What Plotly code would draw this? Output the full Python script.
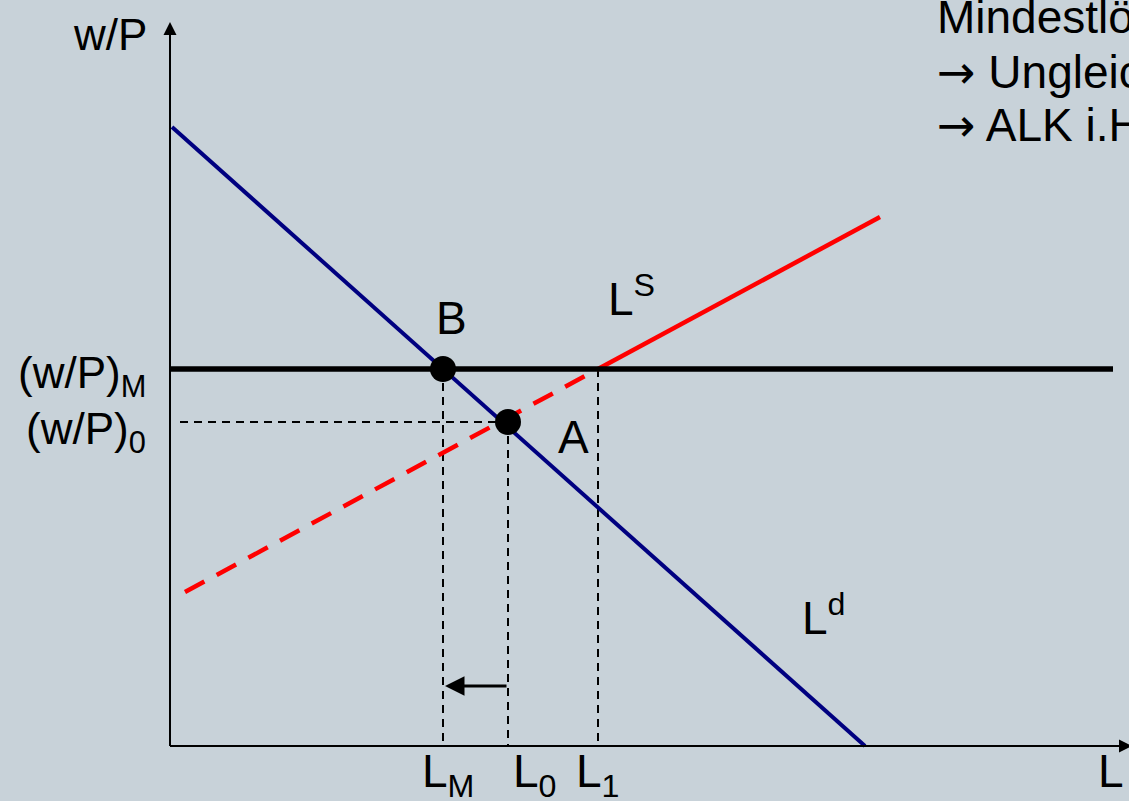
import plotly.graph_objects as go

# Model values (units: horizontal/vertical offset from the origin of the diagram)
ld_L = [2, 695]            # labour demand L^d
ld_w = [619, 0]
ls_L_dash = [15, 428]      # labour supply below minimum wage (dashed)
ls_w_dash = [154, 377]
ls_L_solid = [428, 710]    # labour supply above minimum wage (solid)
ls_w_solid = [377, 529]
w_min = 377                # (w/P)_M
w_0 = 324                  # (w/P)_0
L_M, L_0, L_1 = 273, 338, 428
w_B, w_A = 377, 324
arrow_w = 60
x_max, y_max = 962, 724

BG = "#C8D2D9"
FONT = "Liberation Sans, Arial, sans-serif"

fig = go.Figure()

dash_style = dict(color="black", width=2, dash="8px,6px")
fig.add_trace(go.Scatter(x=[10, L_0], y=[w_0, w_0], mode="lines", line=dash_style))
fig.add_trace(go.Scatter(x=[L_M, L_M], y=[w_B, 0], mode="lines", line=dash_style))
fig.add_trace(go.Scatter(x=[L_0, L_0], y=[w_A, 0], mode="lines", line=dash_style))
fig.add_trace(go.Scatter(x=[L_1, L_1], y=[w_min, 0], mode="lines", line=dash_style))

fig.add_trace(go.Scatter(x=ls_L_dash, y=ls_w_dash, mode="lines",
                         line=dict(color="#FF0000", width=4.5, dash="22px,14px")))
fig.add_trace(go.Scatter(x=ls_L_solid, y=ls_w_solid, mode="lines",
                         line=dict(color="#FF0000", width=4.5)))
fig.add_trace(go.Scatter(x=[0, 943], y=[w_min, w_min], mode="lines",
                         line=dict(color="black", width=5.5)))
fig.add_trace(go.Scatter(x=ld_L, y=ld_w, mode="lines",
                         line=dict(color="#000080", width=4)))
fig.add_trace(go.Scatter(x=[L_M, L_0], y=[w_B, w_A], mode="markers",
                         marker=dict(color="black", size=26)))

# axis lines
fig.add_trace(go.Scatter(x=[0, 0], y=[0, y_max - 5], mode="lines", line=dict(color="black", width=2)))
fig.add_trace(go.Scatter(x=[0, x_max - 5], y=[0, 0], mode="lines", line=dict(color="black", width=2)))

annotations = []
annotations.append(dict(x=0, y=y_max, ax=0, ay=0, xref="x", yref="y", axref="x", ayref="y",
                        showarrow=True, arrowhead=2, arrowsize=1.3, arrowwidth=2,
                        arrowcolor="black", text=""))
annotations.append(dict(x=x_max, y=0, ax=0, ay=0, xref="x", yref="y", axref="x", ayref="y",
                        showarrow=True, arrowhead=2, arrowsize=1.3, arrowwidth=2,
                        arrowcolor="black", text=""))
annotations.append(dict(x=L_M + 2, y=arrow_w, ax=L_0, ay=arrow_w, xref="x", yref="y",
                        axref="x", ayref="y", showarrow=True, arrowhead=2, arrowsize=1.3,
                        arrowwidth=3, arrowcolor="black", text=""))

def label(text, x, y, xa="center", ya="middle", size=46):
    annotations.append(dict(x=x, y=y, xref="x", yref="y", text=text, showarrow=False,
                            xanchor=xa, yanchor=ya, font=dict(family=FONT, size=size, color="black")))

ARROW = '<span style="font-family:DejaVu Sans">→</span>'
label("w/P", -60, 712, size=44)
label("(w/P)<sub>M</sub>", -22, 370, xa="right", size=44)
label("(w/P)<sub>0</sub>", -22, 314, xa="right", size=44)
label("B", 281, 428)
label("A", 403, 309)
label("L<sup>S</sup>", 436, 450, xa="left")
label("L<sup>d</sup>", 630, 131, xa="left")
label("L<sub>M</sub>", 278, -28)
label("L<sub>0</sub>", 365, -28)
label("L<sub>1</sub>", 428, -28)
label("L", 941, -25)
label("Mindestlöhne", 765, 729, xa="left", size=46)
label(ARROW + " Ungleichgewicht", 765, 674, xa="left", size=46)
label(ARROW + " ALK i.H.v. L<sub>1</sub> − L<sub>M</sub>", 765, 618, xa="left", size=46)

fig.update_layout(
    width=1129, height=801,
    margin=dict(l=0, r=0, t=0, b=0),
    paper_bgcolor=BG, plot_bgcolor=BG,
    showlegend=False,
    annotations=annotations,
    xaxis=dict(range=[-170, 959], visible=False, fixedrange=True),
    yaxis=dict(range=[-55, 746], visible=False, fixedrange=True),
)

fig.write_html("out.html", config={"displayModeBar": False},
               post_script="document.body.style.margin='0';")
